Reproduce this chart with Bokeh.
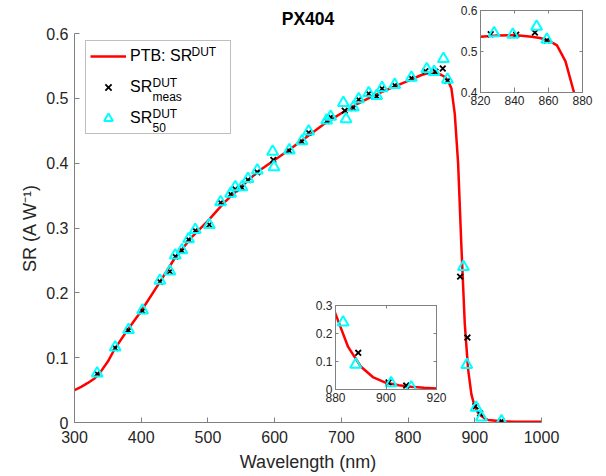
from bokeh.plotting import figure
from bokeh.models import (Range1d, Legend, LegendItem, Label, LinearAxis,
                          FixedTicker)
from bokeh.layouts import column
from bokeh.embed import file_html
from bokeh.resources import INLINE

FONT = "Liberation Sans"
AXIS_COLOR = "#808080"
TEXT_COLOR = "#262626"

# ---------------- data ----------------
title_text = "PX404"
x_label = "Wavelength (nm)"
y_label = "SR (A W\u207b\u00b9)"

curve_wl = [300, 310, 320, 330, 337, 350, 360, 375, 400, 425, 450, 475, 500,
            525, 550, 575, 600, 625, 650, 675, 700, 725, 750, 775, 800, 820,
            830, 840, 850, 855, 860, 865, 870, 875, 880, 885, 890, 895, 900,
            905, 910, 915, 920, 940, 960, 1000]
curve_sr = [0.050, 0.055, 0.061, 0.068, 0.075, 0.094, 0.113, 0.136, 0.172,
            0.212, 0.253, 0.285, 0.311, 0.340, 0.364, 0.387, 0.405, 0.423,
            0.442, 0.461, 0.477, 0.492, 0.505, 0.516, 0.527, 0.536, 0.539,
            0.540, 0.536, 0.533, 0.527, 0.515, 0.476, 0.400, 0.270, 0.152,
            0.082, 0.043, 0.024, 0.015, 0.010, 0.006, 0.004, 0.002, 0.001,
            0.001]

meas_wl = [334, 361, 381, 402, 428, 443, 451, 461, 471, 481, 502, 519, 534,
           541, 551, 560, 574, 598, 622, 641, 651, 678, 684, 705, 718, 726,
           741, 753, 761, 780, 805, 826, 841, 852, 859, 878, 889, 901, 908,
           940]
meas_sr = [0.075, 0.115, 0.142, 0.172, 0.217, 0.233, 0.256, 0.265, 0.282,
           0.296, 0.305, 0.339, 0.352, 0.360, 0.362, 0.374, 0.386, 0.405,
           0.419, 0.433, 0.447, 0.465, 0.471, 0.481, 0.485, 0.498, 0.507,
           0.503, 0.515, 0.520, 0.531, 0.542, 0.541, 0.546, 0.527, 0.225,
           0.131, 0.025, 0.014, 0.002]

sr50_wl = [334, 361, 381, 402, 428, 443, 451, 461, 471, 481, 502, 519, 534,
           541, 551, 560, 574, 597, 599, 622, 641, 651, 678, 684, 703, 707,
           718, 726, 741, 753, 761, 780, 805, 828, 839, 853, 859, 883, 888,
           902, 910, 940]
sr50_sr = [0.076, 0.116, 0.143, 0.173, 0.219, 0.233, 0.258, 0.266, 0.283,
           0.297, 0.305, 0.340, 0.353, 0.363, 0.363, 0.376, 0.389, 0.418,
           0.394, 0.420, 0.434, 0.449, 0.466, 0.472, 0.493, 0.468, 0.486,
           0.499, 0.508, 0.504, 0.516, 0.521, 0.532, 0.545, 0.541, 0.561,
           0.529, 0.240, 0.089, 0.023, 0.008, 0.002]

main_xticks = [300, 400, 500, 600, 700, 800, 900, 1000]
main_yticks = [0, 0.1, 0.2, 0.3, 0.4, 0.5, 0.6]
main_ylabels = ["0", "0.1", "0.2", "0.3", "0.4", "0.5", "0.6"]

ins1_xticks = [820, 840, 860, 880]
ins1_yticks = [0.4, 0.5, 0.6]
ins1_ylabels = ["0.4", "0.5", "0.6"]

ins2_xticks = [880, 900, 920]
ins2_yticks = [0, 0.1, 0.2, 0.3]
ins2_ylabels = ["0", "0.1", "0.2", "0.3"]

legend_main = ["PTB: SR", "SR", "SR"]
legend_sup = ["DUT", "DUT", "DUT"]
legend_sub = ["", "meas", "50"]

BL, BR = 74, 65   # common left / right borders (plots in a column align)


def style_axis(ax, size, standoff):
    ax.axis_line_color = AXIS_COLOR
    ax.axis_line_width = 1
    ax.major_tick_line_color = AXIS_COLOR
    ax.major_tick_in = 5
    ax.major_tick_out = 0
    ax.minor_tick_line_color = None
    ax.major_label_text_font = FONT
    ax.major_label_text_font_size = size
    ax.major_label_text_color = TEXT_COLOR
    ax.major_label_standoff = standoff


def draw_data(fig):
    r1 = fig.line(curve_wl, curve_sr, line_color="red", line_width=2.5)
    r2 = fig.scatter(meas_wl, meas_sr, marker="x", size=8,
                     line_color="black", line_width=1.8)
    r3 = fig.scatter(sr50_wl, sr50_sr, marker="triangle", size=11,
                     line_color="cyan", fill_color=None, line_width=2)
    return r1, r2, r3


# ---------------- main figure ----------------
p = figure(width=606, height=476, x_range=Range1d(300, 1000),
           y_range=Range1d(0, 0.6), output_backend="svg",
           toolbar_location=None, min_border_left=BL, min_border_right=BR,
           min_border_top=33, min_border_bottom=54)
p.grid.visible = False
p.outline_line_color = None
p.background_fill_color = "white"
p.border_fill_color = "white"

p.title.text = title_text
p.title.align = "center"
p.title.text_font = FONT
p.title.text_font_size = "17.5px"
p.title.text_font_style = "bold"
p.title.text_color = "#000000"

style_axis(p.xaxis[0], "16px", 8)
style_axis(p.yaxis[0], "16px", 6)
p.xaxis[0].ticker = FixedTicker(ticks=main_xticks)
p.yaxis[0].ticker = FixedTicker(ticks=main_yticks)
p.yaxis[0].major_label_overrides = {t: s for t, s in zip(main_yticks, main_ylabels)}
for ax, lab, so in ((p.xaxis[0], x_label, 6), (p.yaxis[0], y_label, 3)):
    ax.axis_label = lab
    ax.axis_label_text_font = FONT
    ax.axis_label_text_font_size = "18px"
    ax.axis_label_text_font_style = "normal"
    ax.axis_label_text_color = TEXT_COLOR
    ax.axis_label_standoff = so

r_line, r_meas, r_50 = draw_data(p)

legend = Legend(items=[LegendItem(label=legend_main[0], renderers=[r_line]),
                       LegendItem(label=legend_main[1], renderers=[r_meas]),
                       LegendItem(label=legend_main[2], renderers=[r_50])],
                location=(11, 288), margin=0, padding=4, spacing=9,
                glyph_width=36, glyph_height=22, label_height=22,
                label_width=96, label_standoff=4, label_text_font=FONT,
                label_text_font_size="16px", label_text_color="#000000",
                border_line_color=AXIS_COLOR, border_line_width=1,
                background_fill_alpha=0.0)
p.add_layout(legend)

# super / subscripts of the legend labels, offset in pixels from the
# top-left corner of the plot frame (x=300, y=0.6)
row_centers = [57 - 33, 88 - 33, 119 - 33]
main_widths = [62, 23, 23]
text_left = 129 - BL
for i in range(3):
    xs = text_left + main_widths[i]
    p.add_layout(Label(x=300, y=0.6, x_offset=xs,
                       y_offset=-(row_centers[i] - 6), text=legend_sup[i],
                       text_font=FONT, text_font_size="12px",
                       text_baseline="middle", text_color="#000000"))
    if legend_sub[i]:
        p.add_layout(Label(x=300, y=0.6, x_offset=xs,
                           y_offset=-(row_centers[i] + 8), text=legend_sub[i],
                           text_font=FONT, text_font_size="12px",
                           text_baseline="middle", text_color="#000000"))


# ---------------- insets ----------------
def make_inset(xr, yr, xticks, yticks, ylabels, fw, fh):
    q = figure(width=BL + fw + BR, height=5 + fh + 20,
               x_range=Range1d(*xr), y_range=Range1d(*yr),
               output_backend="svg", toolbar_location=None,
               min_border_left=BL, min_border_right=BR,
               min_border_top=5, min_border_bottom=20)
    q.grid.visible = False
    q.background_fill_color = "white"
    q.border_fill_alpha = 0
    q.outline_line_color = AXIS_COLOR
    style_axis(q.xaxis[0], "12px", 3)
    style_axis(q.yaxis[0], "12px", 3)
    q.xaxis[0].ticker = FixedTicker(ticks=xticks)
    q.yaxis[0].ticker = FixedTicker(ticks=yticks)
    q.yaxis[0].major_label_overrides = {t: s for t, s in zip(yticks, ylabels)}
    for loc, tk in (("above", xticks), ("right", yticks)):
        ax = LinearAxis(ticker=FixedTicker(ticks=tk))
        style_axis(ax, "0px", 0)
        ax.major_tick_in = 3
        ax.major_label_text_alpha = 0
        q.add_layout(ax, loc)
    q.xaxis[0].major_tick_in = 3
    q.yaxis[0].major_tick_in = 3
    draw_data(q)
    return q


q1 = make_inset((820, 880), (0.4, 0.6), ins1_xticks, ins1_yticks,
                ins1_ylabels, 102, 82)
q2 = make_inset((880, 920), (0, 0.3), ins2_xticks, ins2_yticks,
                ins2_ylabels, 101, 84)

p.margin = (0, 0, 0, 0)
q1.margin = (5 - 476, 0, 0, 480 - BL)
q2.margin = (300 - (5 + q1.height), 0, 0, 335 - BL)

layout = column(p, q1, q2, spacing=0, width=606, height=476,
                styles={"overflow": "hidden"})

open("out.html", "w").write(file_html(layout, INLINE))
